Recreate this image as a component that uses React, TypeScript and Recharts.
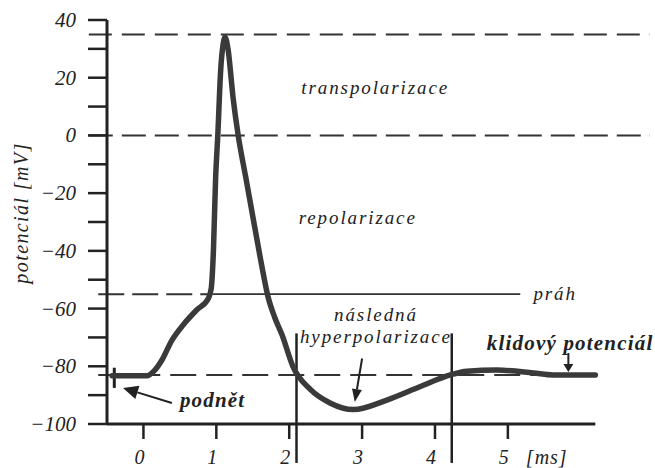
import { LineChart, Line, XAxis, YAxis, ReferenceLine, ReferenceDot } from "recharts";

// action potential trace, time [ms] and potential [mV]
const TIME = [-0.43, 0.05, 0.15, 0.25, 0.39, 0.55, 0.73, 0.89, 0.93, 0.96, 0.99, 1.02, 1.06, 1.09, 1.12, 1.16, 1.23, 1.3, 1.4, 1.5, 1.6, 1.71, 1.8, 1.9, 2.05, 2.29, 2.56, 2.88, 3.34, 3.8, 4.21, 4.44, 4.85, 5.35, 5.62, 6.2];
const POTENTIAL = [-83.3, -83.3, -81.5, -78, -71, -65.5, -60.5, -56.5, -53, -40, -15, 0, 22.7, 31, 34, 30, 13, 0, -14, -28, -42, -56, -63, -69, -80, -88, -92.7, -95, -91.7, -87, -83, -81.7, -81.3, -82.3, -83, -83];

const X_TICKS = [0, 1, 2, 3, 4, 5];
const Y_TICKS = [-100, -90, -80, -70, -60, -50, -40, -30, -20, -10, 0, 10, 20, 30, 40];

const PEAK_LEVEL = 35;
const ZERO_LEVEL = 0;
const THRESHOLD = -55;
const REST = -83;
const PHASE_BOUNDS = [2.1, 4.23];

const data = TIME.map((t, i) => ({ t, v: POTENTIAL[i] }));

const INK = "#222";
const SERIF = "Liberation Serif";

const LABELS = [
  { text: "transpolarizace", t: 3.18, v: 14.3, anchor: "middle", bold: false },
  { text: "repolarizace", t: 2.94, v: -30.7, anchor: "middle", bold: false },
  { text: "práh", t: 5.35, v: -57, anchor: "start", bold: false },
  { text: "následná", t: 3.19, v: -64.2, anchor: "middle", bold: false },
  { text: "hyperpolarizace", t: 3.19, v: -71.9, anchor: "middle", bold: false },
  { text: "klidový potenciál", t: 4.71, v: -74.4, anchor: "start", bold: true },
  { text: "podnět", t: 0.5, v: -94.1, anchor: "start", bold: true },
];

const ARROWS = [
  { from: [0.39, -92.7], to: [-0.28, -87.5], head: 15, half: 7 },
  { from: [3.0, -77.3], to: [2.9, -92.4], head: 13, half: 5 },
  { from: [5.83, -75.4], to: [5.83, -82], head: 8, half: 5 },
];

const arrowShape = (head: number, half: number) => (p: any) => {
  const { x1, y1, x2, y2 } = p;
  const dx = x2 - x1;
  const dy = y2 - y1;
  const len = Math.hypot(dx, dy) || 1;
  const ux = dx / len;
  const uy = dy / len;
  const bx = x2 - ux * head;
  const by = y2 - uy * head;
  const pts = `${x2},${y2} ${bx - uy * half},${by + ux * half} ${bx + uy * half},${by - ux * half}`;
  return (
    <g>
      <line x1={x1} y1={y1} x2={bx} y2={by} stroke={INK} strokeWidth={2} />
      <polygon points={pts} fill={INK} />
    </g>
  );
};

const XTick = (p: any) => {
  const v = p.payload.value;
  return (
    <g>
      <text x={p.x - 4} y={p.y + 23} textAnchor="middle" fontFamily={SERIF} fontStyle="italic" fontSize={20} fill={INK}>
        {v}
      </text>
      {v === 5 && (
        <text x={p.x + 18} y={p.y + 23} fontFamily={SERIF} fontStyle="italic" fontSize={20} letterSpacing={1} fill={INK}>
          [ms]
        </text>
      )}
    </g>
  );
};

const YTick = (p: any) => {
  const v = p.payload.value;
  if (v % 20 !== 0) return <g />;
  return (
    <text x={p.x - 10} y={p.y + 7} textAnchor="end" fontFamily={SERIF} fontStyle="italic" fontSize={21} fill={INK}>
      {v < 0 ? `\u2212${-v}` : v}
    </text>
  );
};

const textShape = (l: (typeof LABELS)[number]) => (p: any) => (
  <text
    x={p.cx}
    y={p.cy}
    textAnchor={l.anchor}
    fontFamily={SERIF}
    fontStyle="italic"
    fontWeight={l.bold ? "bold" : "normal"}
    fontSize={l.bold ? 21 : 19}
    letterSpacing={l.bold ? 1.2 : 1.9}
    fill={INK}
  >
    {l.text}
  </text>
);

const dashed = { stroke: "#333", strokeWidth: 2 };

export default function App() {
  return (
    <div style={{ position: "absolute", left: 0, top: 0, width: 655, height: 468, background: "#fff" }}>
      <LineChart width={655} height={468} data={data} margin={{ top: 20, right: 5, left: 0, bottom: 0 }}>
        <XAxis
          dataKey="t"
          type="number"
          domain={[-0.5, 6.95]}
          ticks={X_TICKS}
          interval={0}
          axisLine={false}
          tickLine={{ stroke: INK, strokeWidth: 2.5 }}
          tickSize={15}
          height={44}
          tick={XTick}
        />
        <YAxis
          type="number"
          domain={[-100, 40]}
          ticks={Y_TICKS}
          interval={0}
          width={107}
          axisLine={{ stroke: INK, strokeWidth: 3 }}
          tickLine={{ stroke: INK, strokeWidth: 2.5 }}
          tickSize={19}
          tick={YTick}
          label={{
            content: () => (
              <text
                transform="translate(28,213) rotate(-90)"
                textAnchor="middle"
                fontFamily={SERIF}
                fontStyle="italic"
                fontSize={20}
                letterSpacing={1.4}
                fill={INK}
              >
                potenciál [mV]
              </text>
            ),
          }}
        />

        {/* level lines */}
        <ReferenceLine segment={[{ x: -0.75, y: PEAK_LEVEL }, { x: 6.95, y: PEAK_LEVEL }]} ifOverflow="visible" {...dashed} strokeDasharray="23 10" />
        <ReferenceLine segment={[{ x: -0.75, y: ZERO_LEVEL }, { x: 6.95, y: ZERO_LEVEL }]} ifOverflow="visible" {...dashed} strokeDasharray="24 9" />
        <ReferenceLine segment={[{ x: -0.62, y: THRESHOLD }, { x: 0.92, y: THRESHOLD }]} ifOverflow="visible" {...dashed} strokeDasharray="26 8" />
        <ReferenceLine segment={[{ x: 0.95, y: THRESHOLD }, { x: 5.17, y: THRESHOLD }]} ifOverflow="visible" stroke="#333" strokeWidth={1.6} />
        <ReferenceLine segment={[{ x: -0.62, y: REST }, { x: 6.2, y: REST }]} ifOverflow="visible" {...dashed} strokeDasharray="26 10" />

        {/* phase boundaries */}
        {PHASE_BOUNDS.map((b) => (
          <ReferenceLine key={b} segment={[{ x: b, y: -68.6 }, { x: b, y: -113.5 }]} ifOverflow="visible" stroke={INK} strokeWidth={2.5} />
        ))}

        {/* x axis line */}
        <ReferenceLine segment={[{ x: -0.5, y: -100 }, { x: 6.2, y: -100 }]} ifOverflow="visible" stroke={INK} strokeWidth={3} />

        {/* stimulus mark */}
        <ReferenceLine segment={[{ x: -0.4, y: -80.5 }, { x: -0.4, y: -87.5 }]} ifOverflow="visible" stroke={INK} strokeWidth={3} />

        {ARROWS.map((a, i) => (
          <ReferenceLine
            key={`a${i}`}
            segment={[{ x: a.from[0], y: a.from[1] }, { x: a.to[0], y: a.to[1] }]}
            ifOverflow="visible"
            shape={arrowShape(a.head, a.half)}
          />
        ))}

        {LABELS.map((l) => (
          <ReferenceDot key={l.text} x={l.t} y={l.v} r={1} ifOverflow="visible" shape={textShape(l)} />
        ))}

        <Line
          dataKey="v"
          type="monotone"
          stroke="#3a3a3a"
          strokeWidth={5.5}
          strokeLinecap="round"
          strokeLinejoin="round"
          dot={false}
          activeDot={false}
          isAnimationActive={false}
        />
      </LineChart>
    </div>
  );
}
